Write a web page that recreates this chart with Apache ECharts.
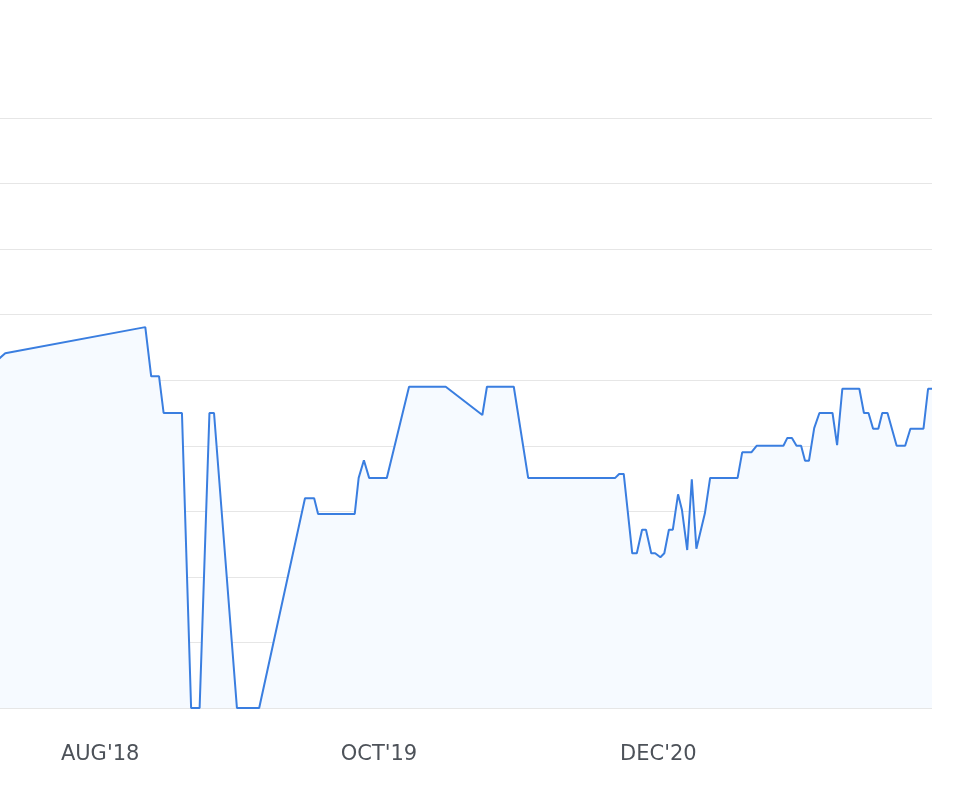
<!DOCTYPE html>
<html>
<head>
<meta charset="utf-8">
<script src="https://cdn.jsdelivr.net/npm/echarts@6/dist/echarts.min.js"></script>
<style>html,body{margin:0;padding:0;background:#fff}#c{width:959px;height:788px}</style>
</head>
<body>
<div id="c"></div>
<script>
const dates = [
 '2018-01-30','2018-03-09','2018-10-09','2018-10-18','2018-10-30','2018-11-06','2018-12-04','2018-12-18','2018-12-31',
 '2019-01-15','2019-01-22','2019-02-26','2019-04-01','2019-06-10','2019-06-24','2019-06-30','2019-08-25','2019-08-31',
 '2019-09-08','2019-09-16','2019-10-13','2019-11-16','2020-01-11','2020-03-07','2020-03-14','2020-04-24','2020-05-16',
 '2020-09-26','2020-10-02','2020-10-09','2020-10-22','2020-10-29','2020-11-06','2020-11-12','2020-11-20','2020-11-26',
 '2020-12-04','2020-12-10','2020-12-17','2020-12-23','2020-12-31','2021-01-06','2021-01-14','2021-01-21','2021-01-28',
 '2021-02-10','2021-02-18','2021-04-01','2021-04-08','2021-04-22','2021-04-30','2021-06-10','2021-06-16','2021-06-23',
 '2021-06-30','2021-07-07','2021-07-13','2021-07-19','2021-07-27','2021-08-04','2021-08-24','2021-08-31','2021-09-08',
 '2021-10-04','2021-10-11','2021-10-18','2021-10-25','2021-11-02','2021-11-08','2021-11-16','2021-11-30','2021-12-13',
 '2021-12-21','2022-01-10','2022-01-17','2022-01-23'
];
const values = [
 50.8,54.1,58.1,50.6,50.6,45.0,45.0,0,0,
 45.0,45.0,0,0,32.0,32.0,29.6,29.6,35.1,
 37.8,35.1,35.1,49.0,49.0,44.7,49.0,49.0,35.1,
 35.1,35.7,35.7,23.6,23.6,27.2,27.2,23.6,23.6,
 23.0,23.6,27.2,27.2,32.6,30.2,24.1,34.9,24.3,
 29.7,35.1,35.1,39.0,39.0,40.0,40.0,41.2,41.2,
 40.0,40.0,37.7,37.7,42.7,45.0,45.0,40.1,48.7,
 48.7,45.0,45.0,42.6,42.6,45.0,45.0,40.0,40.0,
 42.6,42.6,48.7,48.7
];
const tickDates = ['2018-08-01','2019-10-01','2020-12-01'];
const tickLabels = ["AUG'18","OCT'19","DEC'20"];
const axisMin = '2018-03-01';
const axisMax = '2022-01-23';

const ts = s => { const p = s.split('-').map(Number); return Date.UTC(p[0], p[1]-1, p[2]); };
const tickTs = tickDates.map(ts);
const chart = echarts.init(document.getElementById('c'), null, {renderer:'canvas'});
chart.setOption({
  animation: false,
  grid: {left: 0, right: 27, top: 118, bottom: 80, containLabel: false},
  xAxis: {
    type: 'value', min: ts(axisMin), max: ts(axisMax), scale: true,
    axisLine: {show: false}, axisTick: {show: false}, splitLine: {show: false},
    axisLabel: {
      customValues: tickTs,
      margin: 36,
      fontFamily: 'DejaVu Sans', fontSize: 21, color: '#4d5259',
      formatter: v => { const i = tickTs.indexOf(v); return i >= 0 ? tickLabels[i] : ''; }
    }
  },
  yAxis: {
    type: 'value', min: 0, max: 90, interval: 10,
    axisLabel: {show: false}, axisLine: {show: false}, axisTick: {show: false},
    splitLine: {lineStyle: {color: '#e6e6e6', width: 1}}
  },
  series: [{
    type: 'line',
    data: dates.map((d, i) => [ts(d), values[i]]),
    showSymbol: false, symbol: 'none', clip: true,
    lineStyle: {color: '#3a7ee0', width: 2},
    areaStyle: {color: '#f6faff', opacity: 1}
  }]
});
</script>
</body>
</html>
